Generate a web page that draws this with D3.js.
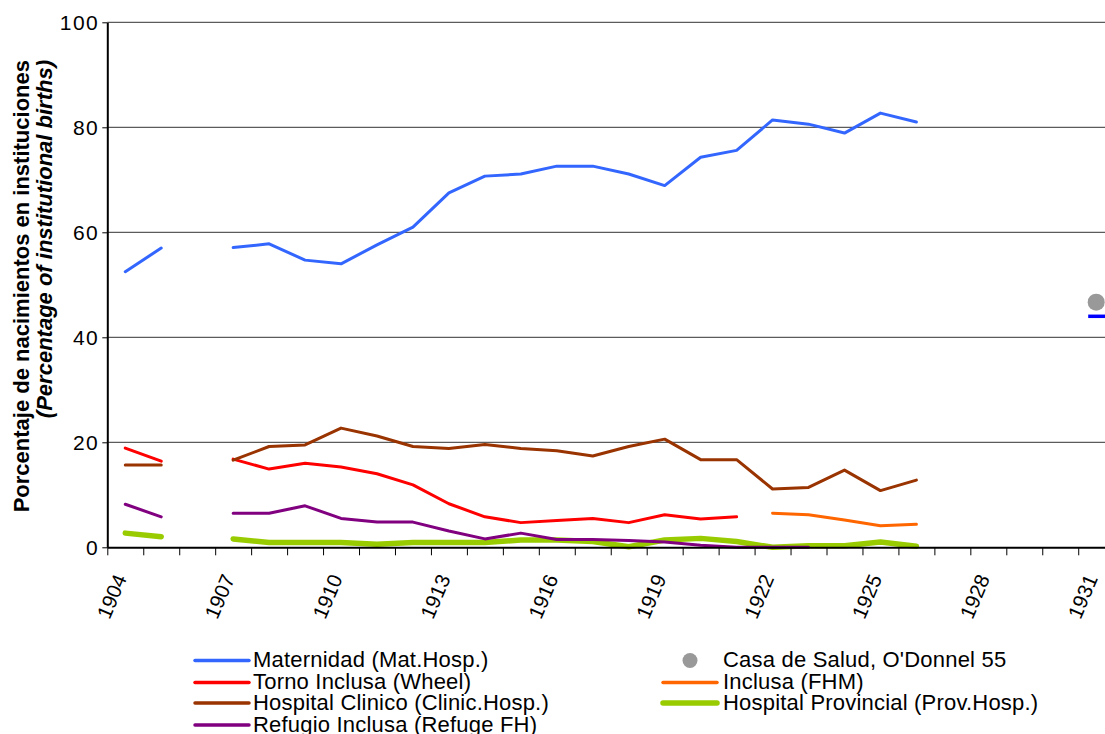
<!DOCTYPE html>
<html>
<head>
<meta charset="utf-8">
<script src="https://cdn.jsdelivr.net/npm/d3@7"></script>
<style>
  body { margin: 0; background: #fff; }
  svg { display: block; font-family: "Liberation Sans", Arial, sans-serif; }
</style>
</head>
<body>
<div id="chart"></div>
<script>
// Años (categorías del eje x)
const anios = d3.range(1904, 1932);
const aniosSerie = d3.range(1904, 1927);

// Valores (null = sin dato)
const maternidad = [52.5, 57.0, null, 57.1, 57.8, 54.7, 54.0, 57.6, 61.0, 67.5, 70.7, 71.1, 72.6, 72.6, 71.1, 68.9, 74.3, 75.6, 81.4, 80.6, 78.9, 82.7, 81.0];
const tornoInclusa = [18.9, 16.4, null, 16.8, 14.9, 16.0, 15.3, 14.0, 11.9, 8.3, 5.8, 4.7, 5.1, 5.5, 4.7, 6.2, 5.4, 5.8, null, null, null, null, null];
const inclusaFHM = [null, null, null, null, null, null, null, null, null, null, null, null, null, null, null, null, null, null, 6.5, 6.2, 5.2, 4.1, 4.4];
const hospClinico = [15.7, 15.7, null, 16.6, 19.2, 19.5, 22.7, 21.2, 19.2, 18.8, 19.6, 18.8, 18.4, 17.4, 19.2, 20.6, 16.7, 16.7, 11.1, 11.4, 14.7, 10.8, 12.8];
const hospProvincial = [2.7, 2.0, null, 1.6, 0.9, 0.9, 0.9, 0.6, 0.9, 0.9, 0.9, 1.4, 1.4, 1.1, 0.1, 1.4, 1.7, 1.1, 0.0, 0.3, 0.3, 1.0, 0.2];
const refugioInclusa = [8.2, 5.8, null, 6.5, 6.5, 7.9, 5.5, 4.8, 4.8, 3.1, 1.6, 2.7, 1.5, 1.5, 1.3, 1.0, 0.4, 0.0, 0.0, 0.0, null, null, null];

// Puntos sueltos de 1931
const casaSalud = [{ anio: 1931, valor: 46.7 }];
const marcaAzul = [{ anio: 1931, valor: 44.0 }];

const yTicks = [0, 20, 40, 60, 80, 100];

const width = 1105;
const height = 734;

const svg = d3.select("#chart").append("svg")
  .attr("width", width)
  .attr("height", height);

// Área del gráfico (se sale por la derecha, igual que el original recortado)
const x0 = 107.3, paso = 35.96;
const x1 = x0 + paso * anios.length;
const yTop = 22.3, yBot = 547.3;

const x = d3.scaleBand().domain(anios).range([x0, x1]).padding(0);
const xBorde = d3.scaleLinear().domain([1904, 1932]).range([x0, x1]);
const y = d3.scaleLinear().domain([0, 100]).range([yBot, yTop]);
const cx = a => x(a) + x.bandwidth() / 2;

// Líneas de grilla
svg.append("g")
  .selectAll("line")
  .data(yTicks.filter(d => d > 0))
  .join("line")
  .attr("x1", x0).attr("x2", x1)
  .attr("y1", d => y(d)).attr("y2", d => y(d))
  .attr("stroke", "#333")
  .attr("stroke-width", 1);

// Series
const series = [
  { nombre: "Maternidad (Mat.Hosp.)", valores: maternidad, color: "#3366ff", ancho: 3 },
  { nombre: "Torno Inclusa (Wheel)", valores: tornoInclusa, color: "#ff0000", ancho: 3 },
  { nombre: "Inclusa (FHM)", valores: inclusaFHM, color: "#ff6600", ancho: 3 },
  { nombre: "Hospital Clinico (Clinic.Hosp.)", valores: hospClinico, color: "#993300", ancho: 3 },
  { nombre: "Hospital Provincial (Prov.Hosp.)", valores: hospProvincial, color: "#99cc00", ancho: 5.5 },
  { nombre: "Refugio Inclusa (Refuge FH)", valores: refugioInclusa, color: "#800080", ancho: 3 }
];

const linea = d3.line()
  .defined(d => d.v !== null)
  .x(d => cx(d.a))
  .y(d => y(d.v));

svg.append("g")
  .selectAll("path")
  .data(series)
  .join("path")
  .attr("fill", "none")
  .attr("stroke", d => d.color)
  .attr("stroke-width", d => d.ancho)
  .attr("stroke-linejoin", "round")
  .attr("stroke-linecap", "round")
  .attr("d", d => linea(aniosSerie.map((a, i) => ({ a: a, v: d.valores[i] }))));

// Punto gris y marca azul de 1931
svg.append("g")
  .selectAll("circle")
  .data(casaSalud)
  .join("circle")
  .attr("cx", d => cx(d.anio))
  .attr("cy", d => y(d.valor))
  .attr("r", 8.5)
  .attr("fill", "#999999");

svg.append("g")
  .selectAll("line")
  .data(marcaAzul)
  .join("line")
  .attr("x1", d => cx(d.anio) - 8).attr("x2", d => cx(d.anio) + 9)
  .attr("y1", d => y(d.valor)).attr("y2", d => y(d.valor))
  .attr("stroke", "#0000ff")
  .attr("stroke-width", 3.5);

// Eje y
const ejeY = svg.append("g")
  .attr("transform", `translate(${x0},0)`)
  .call(d3.axisLeft(y).tickValues(yTicks).tickSize(5).tickPadding(3).tickSizeOuter(0));
ejeY.select(".domain").attr("stroke", "#000").attr("stroke-width", 2);
ejeY.selectAll(".tick line").attr("stroke", "#000");
ejeY.selectAll("text")
  .attr("font-size", 21)
  .attr("letter-spacing", 1.5)
  .attr("fill", "#000")
  .attr("font-family", "Liberation Sans, Arial, sans-serif");

// Eje x: marcas en los bordes de cada categoría
const ejeXMarcas = svg.append("g")
  .attr("transform", `translate(0,${yBot})`)
  .call(d3.axisBottom(xBorde).tickValues(d3.range(1904, 1933)).tickFormat("").tickSize(8).tickSizeOuter(0));
ejeXMarcas.select(".domain").attr("stroke", "#000").attr("stroke-width", 2);
ejeXMarcas.selectAll(".tick line").attr("stroke", "#000");

// Eje x: etiquetas cada 3 años, rotadas
const ejeX = svg.append("g")
  .attr("transform", `translate(0,${yBot})`)
  .call(d3.axisBottom(x).tickValues(anios.filter(a => (a - 1904) % 3 === 0)).tickSize(0));
ejeX.select(".domain").remove();
ejeX.selectAll("text")
  .attr("x", 0).attr("y", 0).attr("dy", 0)
  .attr("text-anchor", "end")
  .attr("transform", "translate(2,31) rotate(-67)")
  .attr("font-size", 20.5)
  .attr("fill", "#000")
  .attr("font-family", "Liberation Sans, Arial, sans-serif");

// Título del eje y (dos líneas)
const titulo = svg.append("text")
  .attr("transform", "translate(29,60) rotate(-90)")
  .attr("text-anchor", "end")
  .attr("font-size", 22)
  .attr("font-weight", "bold");
titulo.append("tspan").attr("x", 0).attr("y", 0).text("Porcentaje de nacimientos en instituciones");
titulo.append("tspan").attr("x", 0).attr("y", 23).attr("font-style", "italic").text("(Percentage of institutional births)");

// Leyenda (dos columnas, por filas como en Excel)
const leyenda = [
  { nombre: "Maternidad (Mat.Hosp.)", color: "#3366ff", ancho: 3.5, tipo: "linea", col: 0, fila: 0 },
  { nombre: "Casa de Salud, O'Donnel 55", color: "#999999", tipo: "punto", col: 1, fila: 0 },
  { nombre: "Torno Inclusa (Wheel)", color: "#ff0000", ancho: 3.5, tipo: "linea", col: 0, fila: 1 },
  { nombre: "Inclusa (FHM)", color: "#ff6600", ancho: 3.5, tipo: "linea", col: 1, fila: 1 },
  { nombre: "Hospital Clinico (Clinic.Hosp.)", color: "#993300", ancho: 3.5, tipo: "linea", col: 0, fila: 2 },
  { nombre: "Hospital Provincial (Prov.Hosp.)", color: "#99cc00", ancho: 5.5, tipo: "linea", col: 1, fila: 2 },
  { nombre: "Refugio Inclusa (Refuge FH)", color: "#800080", ancho: 3.5, tipo: "linea", col: 0, fila: 3 }
];
const colX = [195, 663];
const filaY = [660.5, 682.5, 703, 725];

const items = svg.append("g")
  .selectAll("g")
  .data(leyenda)
  .join("g")
  .attr("transform", d => `translate(${colX[d.col]},${filaY[d.fila]})`);

items.filter(d => d.tipo === "linea").append("line")
  .attr("x1", 0).attr("x2", 54)
  .attr("stroke", d => d.color)
  .attr("stroke-width", d => d.ancho)
  .attr("stroke-linecap", "round");

items.filter(d => d.tipo === "punto").append("circle")
  .attr("cx", 27).attr("r", 7.5)
  .attr("fill", d => d.color);

items.append("text")
  .attr("x", d => d.col === 0 ? 58 : 60)
  .attr("y", 6.5)
  .attr("font-size", 22)
  .attr("letter-spacing", 0.2)
  .attr("fill", "#000")
  .text(d => d.nombre);
</script>
</body>
</html>
